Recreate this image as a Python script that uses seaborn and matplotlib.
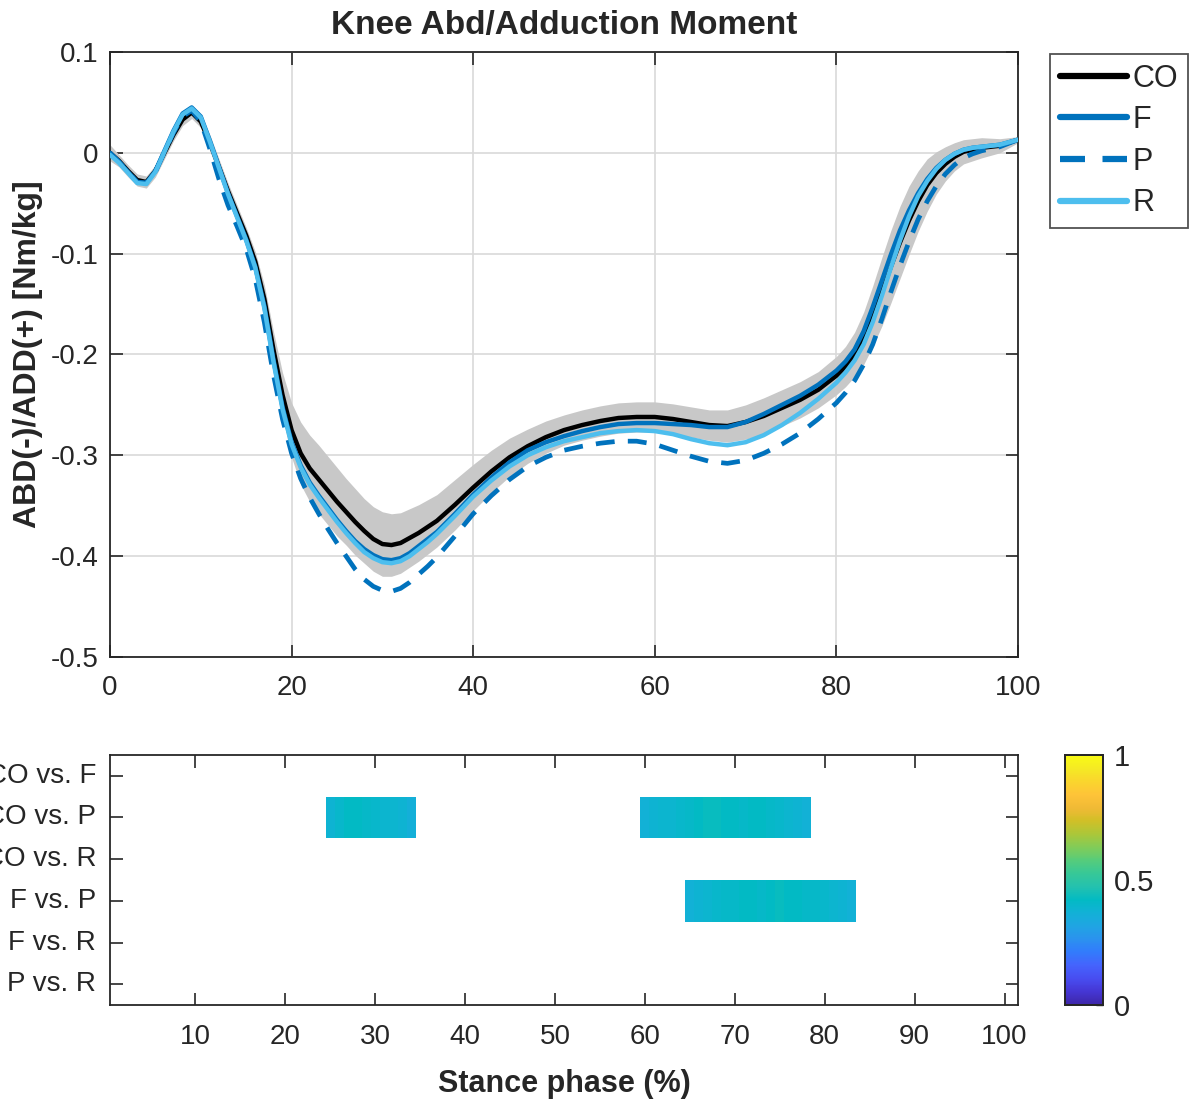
import numpy as np
import pandas as pd
import matplotlib
matplotlib.use("Agg")
import matplotlib.pyplot as plt
from matplotlib.colors import LinearSegmentedColormap
import seaborn as sns

# ---------------- data ----------------
stance = [0, 1, 2, 3, 4, 5, 6, 7, 8, 9, 10, 11, 12, 13, 14, 15, 16, 17, 18, 19,
          20, 21, 22, 23, 24, 25, 26, 27, 28, 29, 30, 31, 32, 33, 34, 35, 36,
          38, 40, 42, 44, 46, 48, 50, 52, 54, 56, 58, 60, 62, 64, 66, 68, 70,
          72, 74, 76, 78, 80, 81, 82, 83, 84, 85, 86, 87, 88, 89, 90, 91, 92,
          93, 94, 95, 96, 98, 100]

co_mean = [0.000, -0.008, -0.018, -0.027, -0.029, -0.018, 0.000, 0.018, 0.033, 0.040,
           0.031, 0.010, -0.014, -0.038, -0.060, -0.082, -0.108, -0.145, -0.195, -0.240,
           -0.275, -0.298, -0.313, -0.324, -0.335, -0.346, -0.356, -0.366, -0.375, -0.383,
           -0.388, -0.389, -0.387, -0.382, -0.377, -0.371, -0.365,
           -0.349, -0.332, -0.316, -0.302, -0.291, -0.282, -0.275, -0.270, -0.266, -0.263,
           -0.262, -0.262, -0.264, -0.267, -0.270, -0.271, -0.267, -0.261, -0.253, -0.245,
           -0.235, -0.221, -0.212, -0.200, -0.184, -0.162, -0.138, -0.113, -0.089, -0.067,
           -0.048, -0.032, -0.020, -0.011, -0.004, 0.001, 0.003, 0.005, 0.007, 0.013]

co_sd = [0.008, 0.006, 0.006, 0.006, 0.006, 0.006, 0.006, 0.006, 0.006, 0.006,
         0.006, 0.008, 0.008, 0.008, 0.008, 0.008, 0.010, 0.014, 0.018, 0.022,
         0.027, 0.031, 0.033, 0.034, 0.034, 0.034, 0.033, 0.033, 0.032, 0.032,
         0.032, 0.031, 0.030, 0.029, 0.028, 0.027, 0.026,
         0.025, 0.023, 0.021, 0.019, 0.017, 0.016, 0.015, 0.015, 0.015, 0.015,
         0.015, 0.015, 0.015, 0.015, 0.015, 0.016, 0.017, 0.018, 0.018, 0.018,
         0.018, 0.019, 0.020, 0.022, 0.026, 0.030, 0.034, 0.036, 0.036, 0.034,
         0.030, 0.026, 0.021, 0.017, 0.014, 0.012, 0.011, 0.010, 0.007, 0.003]

f_mean = [0.000, -0.009, -0.019, -0.029, -0.030, -0.018, 0.002, 0.022, 0.039, 0.045,
          0.036, 0.012, -0.014, -0.040, -0.063, -0.086, -0.113, -0.152, -0.205, -0.252,
          -0.287, -0.310, -0.327, -0.340, -0.352, -0.364, -0.375, -0.385, -0.393, -0.399,
          -0.403, -0.404, -0.402, -0.397, -0.390, -0.383, -0.376,
          -0.358, -0.339, -0.322, -0.307, -0.295, -0.287, -0.281, -0.276, -0.272, -0.269,
          -0.268, -0.268, -0.269, -0.270, -0.272, -0.272, -0.267, -0.259, -0.250, -0.241,
          -0.230, -0.216, -0.207, -0.195, -0.177, -0.153, -0.127, -0.101, -0.077, -0.057,
          -0.040, -0.026, -0.015, -0.007, -0.001, 0.003, 0.005, 0.006, 0.008, 0.013]

p_mean = [0.000, -0.009, -0.019, -0.029, -0.030, -0.019, 0.001, 0.020, 0.036, 0.042,
          0.031, 0.004, -0.026, -0.052, -0.073, -0.095, -0.125, -0.168, -0.220, -0.264,
          -0.298, -0.323, -0.342, -0.358, -0.373, -0.387, -0.400, -0.413, -0.423, -0.430,
          -0.434, -0.435, -0.432, -0.426, -0.418, -0.410, -0.401,
          -0.380, -0.358, -0.340, -0.324, -0.311, -0.302, -0.295, -0.291, -0.288, -0.286,
          -0.286, -0.289, -0.295, -0.301, -0.306, -0.308, -0.305, -0.298, -0.289, -0.278,
          -0.264, -0.248, -0.238, -0.226, -0.210, -0.190, -0.165, -0.138, -0.112, -0.088,
          -0.066, -0.048, -0.033, -0.021, -0.012, -0.005, -0.001, 0.002, 0.006, 0.013]

r_mean = [-0.002, -0.010, -0.020, -0.030, -0.031, -0.019, 0.001, 0.021, 0.038, 0.044,
          0.035, 0.011, -0.015, -0.041, -0.064, -0.087, -0.114, -0.154, -0.207, -0.254,
          -0.289, -0.312, -0.329, -0.342, -0.354, -0.366, -0.377, -0.387, -0.396, -0.402,
          -0.406, -0.407, -0.405, -0.400, -0.393, -0.386, -0.378,
          -0.360, -0.341, -0.325, -0.311, -0.300, -0.292, -0.286, -0.282, -0.278, -0.276,
          -0.275, -0.276, -0.279, -0.284, -0.288, -0.290, -0.287, -0.280, -0.270, -0.258,
          -0.244, -0.228, -0.218, -0.206, -0.190, -0.168, -0.142, -0.114, -0.087, -0.063,
          -0.043, -0.028, -0.016, -0.007, -0.001, 0.003, 0.005, 0.006, 0.008, 0.013]

group_labels = ["CO", "F", "P", "R"]

# significance map (value per stance-phase sample 1..101)
comparisons = ["CO vs. F", "CO vs. P", "CO vs. R", "F vs. P", "F vs. R", "P vs. R"]
phase_samples = list(range(1, 102))
co_p_start1 = 25
co_p_vals1 = [0.38, 0.40, 0.42, 0.42, 0.41, 0.40, 0.39, 0.39, 0.38, 0.36]
co_p_start2 = 60
co_p_vals2 = [0.37, 0.38, 0.39, 0.39, 0.40, 0.41, 0.42, 0.43, 0.43, 0.42,
              0.42, 0.41, 0.42, 0.42, 0.41, 0.40, 0.39, 0.38, 0.37]
f_p_start = 65
f_p_vals = [0.37, 0.38, 0.39, 0.40, 0.41, 0.41, 0.42, 0.42, 0.41, 0.42,
            0.43, 0.42, 0.42, 0.41, 0.41, 0.40, 0.39, 0.38, 0.37]

top_xticks = [0, 20, 40, 60, 80, 100]
top_yticks = [-0.5, -0.4, -0.3, -0.2, -0.1, 0, 0.1]
top_ylabels = ["-0.5", "-0.4", "-0.3", "-0.2", "-0.1", "0", "0.1"]
bottom_xticks = [10, 20, 30, 40, 50, 60, 70, 80, 90, 100]
cbar_ticks = [0, 0.5, 1]

# ---------------- style ----------------
sns.set_theme(style="white")
plt.rcParams["font.family"] = ["Liberation Sans", "DejaVu Sans"]
plt.rcParams["axes.unicode_minus"] = False

parula_anchor = [
    (0.2422, 0.1504, 0.6603), (0.2706, 0.2147, 0.8364), (0.2813, 0.3006, 0.9414),
    (0.2699, 0.3892, 0.9906), (0.1963, 0.4847, 0.9892), (0.1687, 0.5703, 0.9359),
    (0.1248, 0.6459, 0.8883), (0.0689, 0.6948, 0.8394), (0.0067, 0.7312, 0.7660),
    (0.1408, 0.7584, 0.6842), (0.2161, 0.7843, 0.5923), (0.3406, 0.8008, 0.4789),
    (0.5044, 0.7993, 0.3480), (0.6720, 0.7793, 0.2227), (0.8203, 0.7498, 0.1535),
    (0.9393, 0.7288, 0.2100), (0.9970, 0.7659, 0.2199), (0.9786, 0.8386, 0.1766),
    (0.9597, 0.9135, 0.1423), (0.9769, 0.9839, 0.0805)]
parula = LinearSegmentedColormap.from_list("parula", parula_anchor, N=256)

AX_COLOR = "#262626"
C_CO = "black"
C_F = "#0072BD"
C_P = "#0072BD"
C_R = "#4DBEEE"

fig = plt.figure(figsize=(11.94, 11.06), dpi=100)
ax = fig.add_axes([0.0921, 0.4060, 0.7605, 0.5470])
ax2 = fig.add_axes([0.0921, 0.0913, 0.7605, 0.2261])
cax = fig.add_axes([0.8920, 0.0913, 0.0318, 0.2261])

# ---------------- top panel ----------------
df = pd.DataFrame({"x": stance, "CO": co_mean, "F": f_mean, "P": p_mean, "R": r_mean,
                   "sd": co_sd})
ax.fill_between(df["x"], df["CO"] - df["sd"], df["CO"] + df["sd"],
                color="#c8c8c8", linewidth=0, zorder=1)
sns.lineplot(data=df, x="x", y="CO", ax=ax, color=C_CO, linewidth=3.2,
             label="CO", zorder=3)
sns.lineplot(data=df, x="x", y="F", ax=ax, color=C_F, linewidth=3.2,
             label="F", zorder=3)
sns.lineplot(data=df, x="x", y="P", ax=ax, color=C_P, linewidth=3.4,
             label="P", zorder=3, linestyle=(0, (4.0, 2.8)))
sns.lineplot(data=df, x="x", y="R", ax=ax, color=C_R, linewidth=3.2,
             label="R", zorder=3)

ax.set_xlim(0, 100)
ax.set_ylim(-0.5, 0.1)
ax.set_xticks(top_xticks)
ax.set_xticklabels([str(t) for t in top_xticks])
ax.set_yticks(top_yticks)
ax.set_yticklabels(top_ylabels)
ax.set_xlabel("")
ax.set_ylabel("ABD(-)/ADD(+) [Nm/kg]", fontsize=23, fontweight="bold", labelpad=6)
ax.set_title("Knee Abd/Adduction Moment", fontsize=24, fontweight="bold", pad=13)
ax.grid(True, color="#d9d9d9", linewidth=1.2)
ax.set_axisbelow(True)
ax.tick_params(direction="in", length=9, width=1.2, colors=AX_COLOR,
               labelsize=20, top=True, right=True, bottom=True, left=True,
               labelcolor="#262626", pad=8)
ax.tick_params(axis="x", pad=13)
for s in ax.spines.values():
    s.set_visible(True)
    s.set_color(AX_COLOR)
    s.set_linewidth(1.3)

leg = ax.legend(loc="upper left", bbox_to_anchor=(1.035, 0.997), borderaxespad=0,
                fontsize=22, frameon=True, fancybox=False, handlelength=2.2,
                handletextpad=0.2, labelspacing=0.38, borderpad=0.32)
leg.get_frame().set_edgecolor(AX_COLOR)
leg.get_frame().set_linewidth(1.3)
for ln in leg.get_lines():
    ln.set_linewidth(4.5)

# ---------------- bottom panel ----------------
sig = np.full((len(comparisons), len(phase_samples)), np.nan)
sig[1, co_p_start1 - 1:co_p_start1 - 1 + len(co_p_vals1)] = co_p_vals1
sig[1, co_p_start2 - 1:co_p_start2 - 1 + len(co_p_vals2)] = co_p_vals2
sig[3, f_p_start - 1:f_p_start - 1 + len(f_p_vals)] = f_p_vals
sig_df = pd.DataFrame(sig, index=comparisons, columns=phase_samples)

sns.heatmap(sig_df, ax=ax2, cmap=parula, vmin=0, vmax=1, cbar_ax=cax,
            mask=sig_df.isna(), linewidths=0, xticklabels=False, yticklabels=True)

ax2.set_xticks([t - 0.5 for t in bottom_xticks])
ax2.set_xticklabels([str(t) for t in bottom_xticks], rotation=0)
ax2.set_yticks([i + 0.5 for i in range(len(comparisons))])
ax2.set_yticklabels(comparisons, rotation=0)
ax2.set_xlabel("Stance phase (%)", fontsize=22, fontweight="bold", labelpad=13)
ax2.set_ylabel("")
ax2.tick_params(direction="in", length=9, width=1.2, colors=AX_COLOR,
                labelsize=20, top=True, right=True, bottom=True, left=True,
                labelcolor="#262626", pad=10)
ax2.tick_params(axis="x", pad=14)
for s in ax2.spines.values():
    s.set_visible(True)
    s.set_color(AX_COLOR)
    s.set_linewidth(1.3)

cax.set_yticks(cbar_ticks)
cax.set_yticklabels(["0", "0.5", "1"])
cax.tick_params(direction="in", length=5, width=1.0, colors=AX_COLOR,
                labelsize=21, labelcolor="#262626", right=True, pad=8)
for s in cax.spines.values():
    s.set_visible(True)
    s.set_color(AX_COLOR)
    s.set_linewidth(1.3)

fig.savefig("out.png", dpi=100, facecolor="white")
